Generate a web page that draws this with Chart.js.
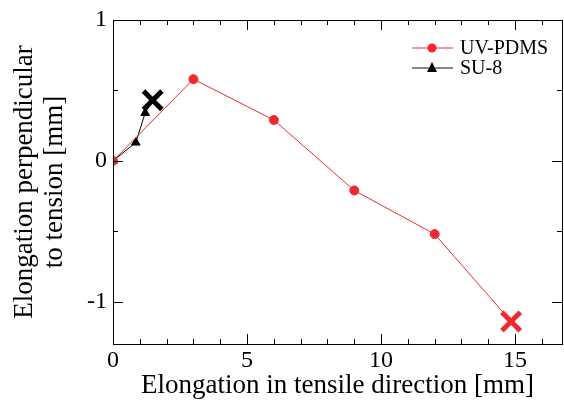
<!DOCTYPE html>
<html>
<head>
<meta charset="utf-8">
<script src="https://cdn.jsdelivr.net/npm/chart.js@4/dist/chart.umd.min.js"></script>
<style>
  html, body { margin: 0; padding: 0; background: #fff; overflow: hidden; }
  canvas { display: block; }
</style>
</head>
<body>
<canvas id="myChart" width="564" height="410"></canvas>
<script>
// data
const pdmsX = [0, 3, 6, 9, 12, 14.85];
const pdmsY = [0, 0.58, 0.29, -0.21, -0.52, -1.14];
const su8X = [0, 0.85, 1.2, 1.48];
const su8Y = [0, 0.13, 0.34, 0.43];
const xTicks = [0, 5, 10, 15];
const yTicks = [-1, 0, 1];

const RED = '#ee2a2f';
const BLACK = '#000';
const serif = '"Liberation Serif", "Times New Roman", serif';

function pts(xs, ys) {
    return xs.map((x, i) => ({ x: x, y: ys[i] }));
}

// marker style: last point is the break (X)
function styles(n, normal) {
    let s = [];
    for (let i = 0; i < n; i++) s.push(i == n - 1 ? 'crossRot' : normal);
    return s;
}
function radii(n, r) {
    let s = [];
    for (let i = 0; i < n; i++) s.push(i == n - 1 ? 13 : r);
    return s;
}
function widths(n) {
    let s = [];
    for (let i = 0; i < n; i++) s.push(i == n - 1 ? 5 : 1);
    return s;
}

// inward ticks on all four sides + legend
const frame = {
    id: 'frame',
    afterDatasetsDraw(chart) {
        const ctx = chart.ctx;
        const a = chart.chartArea;
        const xs = chart.scales.x, ys = chart.scales.y;
        ctx.save();
        ctx.strokeStyle = '#000';
        ctx.lineWidth = 1;
        ctx.strokeRect(a.left + 0.5, a.top + 0.5, a.right - a.left, a.bottom - a.top);
        ctx.beginPath();
        for (let v = 0; v <= 16; v++) {
            const px = Math.round(xs.getPixelForValue(v)) + 0.5;
            const len = v % 5 == 0 ? 10 : 5;
            ctx.moveTo(px, a.bottom); ctx.lineTo(px, a.bottom - len);
            ctx.moveTo(px, a.top); ctx.lineTo(px, a.top + len);
        }
        for (let v = -1; v <= 1; v += 0.5) {
            const py = Math.round(ys.getPixelForValue(v)) + 0.5;
            const len = Number.isInteger(v) ? 10 : 5;
            ctx.moveTo(a.left, py); ctx.lineTo(a.left + len, py);
            ctx.moveTo(a.right, py); ctx.lineTo(a.right - len, py);
        }
        ctx.stroke();

        // legend
        const items = [
            { label: 'UV-PDMS', color: RED, mark: 'circle' },
            { label: 'SU-8', color: '#888', markColor: BLACK, mark: 'triangle' }
        ];
        let ly = 48;
        ctx.font = '20px ' + serif;
        ctx.textBaseline = 'middle';
        items.forEach(it => {
            ctx.strokeStyle = it.color;
            ctx.lineWidth = it.mark == 'circle' ? 1 : 2;
            ctx.beginPath();
            ctx.moveTo(412, ly); ctx.lineTo(453, ly);
            ctx.stroke();
            ctx.fillStyle = it.markColor || it.color;
            ctx.beginPath();
            if (it.mark == 'circle') {
                ctx.arc(432, ly, 4.5, 0, Math.PI * 2);
            } else {
                ctx.moveTo(432, ly - 6); ctx.lineTo(437, ly + 4); ctx.lineTo(427, ly + 4);
                ctx.closePath();
            }
            ctx.fill();
            ctx.fillStyle = '#000';
            ctx.fillText(it.label, 460, ly + 1);
            ly += 20;
        });
        ctx.restore();
    }
};

const ctx = document.getElementById('myChart').getContext('2d');

Charte = new Chart(ctx, {
    type: 'scatter',
    data: {
        datasets: [{
            label: 'UV-PDMS',
            data: pts(pdmsX, pdmsY),
            showLine: true,
            borderColor: RED,
            backgroundColor: RED,
            borderWidth: 1,
            pointStyle: styles(pdmsX.length, 'circle'),
            pointRadius: radii(pdmsX.length, 4.5),
            pointBorderWidth: widths(pdmsX.length),
            pointBackgroundColor: RED,
            pointBorderColor: RED
        }, {
            label: 'SU-8',
            data: pts(su8X, su8Y),
            showLine: true,
            borderColor: BLACK,
            backgroundColor: BLACK,
            borderWidth: 1,
            pointStyle: styles(su8X.length, 'triangle'),
            pointRadius: radii(su8X.length, 5),
            pointBorderWidth: widths(su8X.length),
            pointBackgroundColor: BLACK,
            pointBorderColor: BLACK
        }]
    },
    options: {
        responsive: false,
        animation: false,
        layout: { autoPadding: false, padding: { top: 20, right: 2, left: 0, bottom: 0 } },
        plugins: { legend: { display: false }, tooltip: { enabled: false } },
        scales: {
            x: {
                type: 'linear',
                min: 0, max: 16.75,
                grid: { display: false, drawTicks: false },
                border: { display: false },
                afterBuildTicks: s => { s.ticks = xTicks.map(v => ({ value: v })); },
                afterFit: s => { s.height = 66; s.paddingLeft = 0; s.paddingRight = 0; },
                ticks: { color: '#000', padding: 2, font: { family: serif, size: 24 } },
                title: {
                    display: true,
                    text: 'Elongation in tensile direction [mm]',
                    color: '#000',
                    padding: { top: 0, bottom: 8 },
                    font: { family: serif, size: 27 }
                }
            },
            y: {
                type: 'linear',
                min: -1.3, max: 1,
                grid: { display: false, drawTicks: false },
                border: { display: false },
                afterBuildTicks: s => { s.ticks = yTicks.map(v => ({ value: v })); },
                afterFit: s => { s.width = 113; s.paddingTop = 0; s.paddingBottom = 0; },
                ticks: { color: '#000', padding: 6, font: { family: serif, size: 24 } },
                title: {
                    display: true,
                    text: ['Elongation perpendicular', 'to tension [mm]'],
                    color: '#000',
                    padding: { top: 10, bottom: 0 },
                    font: { family: serif, size: 27, lineHeight: 1.1 }
                }
            }
        }
    },
    plugins: [frame]
});
</script>
</body>
</html>
